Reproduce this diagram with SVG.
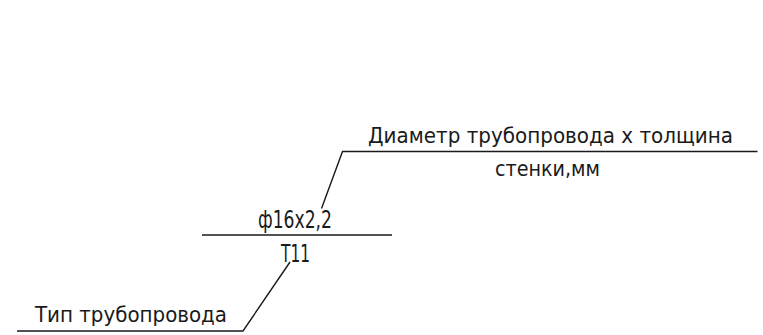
<svg xmlns="http://www.w3.org/2000/svg" width="763" height="335" viewBox="0 0 763 335">
<style>
.t{font-family:"DejaVu Sans Condensed","Liberation Sans Narrow","Liberation Sans",sans-serif;fill:#1a1a1a;}
.s{font-size:22px;}
.m{font-size:24px;}
.ln{fill:none;stroke:#1a1a1a;stroke-width:1.4;}
</style>
<rect width="763" height="335" fill="#ffffff"/>
<g id="connectors">
<path class="ln" d="M757.5 151.5 H342.5 L321.5 208.5"/>
<path class="ln" d="M202 235 H392"/>
<path class="ln" d="M17 331 H243 L290 262"/>
</g>
<g id="label-diameter">
<text class="t s" x="368" y="143" textLength="365" lengthAdjust="spacingAndGlyphs">Диаметр трубопровода х толщина</text>
<text class="t s" x="495" y="175.5" textLength="105" lengthAdjust="spacingAndGlyphs">стенки,мм</text>
</g>
<g id="node-pipe">
<text class="t m" x="258" y="228" textLength="74" lengthAdjust="spacingAndGlyphs">ф16x2,2</text>
<text class="t m" x="281" y="261.5" textLength="29" lengthAdjust="spacingAndGlyphs">Т11</text>
</g>
<g id="label-type">
<text class="t s" x="35" y="322" textLength="192" lengthAdjust="spacingAndGlyphs">Тип трубопровода</text>
</g>
</svg>
